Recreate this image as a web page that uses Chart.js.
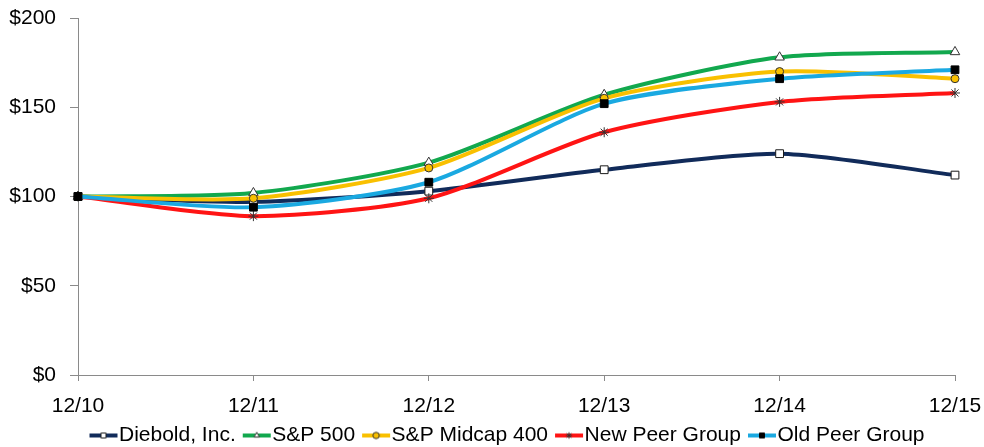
<!DOCTYPE html>
<html>
<head>
<meta charset="utf-8">
<script src="https://cdn.jsdelivr.net/npm/chart.js@4"></script>
<style>
html,body{margin:0;padding:0;background:#fff;}
#wrap{width:984px;height:447px;}
</style>
</head>
<body>
<div id="wrap"><canvas id="c" width="984" height="447"></canvas></div>
<script>
const categories = ['12/10','12/11','12/12','12/13','12/14','12/15'];
const diebold   = [100, 97, 103, 115, 124, 112];
const sp500     = [100, 102, 119, 157, 178, 181];
const midcap400 = [100, 99, 116, 155, 170, 166];
const newPeer   = [100, 89, 99, 136, 153, 158];
const oldPeer   = [100, 94, 108, 152, 166, 171];
const yTicks    = [0, 50, 100, 150, 200];

const seriesNames = ['Diebold, Inc.','S&P 500','S&P Midcap 400','New Peer Group','Old Peer Group'];
const lineColors  = ['#112B5A','#12A84E','#F9C000','#FF1414','#1AA9E1'];
const pStyles     = ['rect','triangle','circle','star','rect'];
const pFill       = ['#ffffff','#ffffff','#F9C000','#333333','#000000'];
const pBorder     = ['#1a1a1a','#333333','#333333','#333333','#000000'];
const pRadius     = [5.5,5.5,4,5,5.5];
const values      = [diebold, sp500, midcap400, newPeer, oldPeer];

function legendIcon(i){
  const c = document.createElement('canvas');
  c.width = 42; c.height = 14;
  const ctx = c.getContext('2d');
  ctx.strokeStyle = lineColors[i]; ctx.lineWidth = 4;
  ctx.beginPath(); ctx.moveTo(13,7); ctx.lineTo(41,7); ctx.stroke();
  ctx.fillStyle = pFill[i]; ctx.strokeStyle = pBorder[i]; ctx.lineWidth = 1;
  Chart.helpers.drawPoint(ctx, {pointStyle: pStyles[i], radius: (pStyles[i]==='rect'?3.5:3.2), rotation: 0, borderWidth: 1}, 27, 7);
  return c;
}

const datasets = values.map((v,i)=>({
  label: seriesNames[i],
  data: v,
  borderColor: lineColors[i],
  backgroundColor: lineColors[i],
  borderWidth: 4,
  tension: 0.25,
  pointStyle: pStyles[i],
  pointRadius: pRadius[i],
  pointBackgroundColor: pFill[i],
  pointBorderColor: pBorder[i],
  pointBorderWidth: 1,
  order: 5 - i
}));

const legendShift = {
  id: 'legendShift',
  afterLayout(chart){
    if (chart.legend){
      chart.legend.left += 24; chart.legend.right += 24;
      chart.legend.top += 9; chart.legend.bottom += 9;
    }
  }
};

new Chart(document.getElementById('c'), {
  type: 'line',
  data: { labels: categories, datasets },
  plugins: [legendShift],
  options: {
    responsive: false,
    animation: false,
    layout: { padding: { left: 8, right: 29, top: 18, bottom: 0 } },
    plugins: {
      tooltip: { enabled: false },
      legend: {
        position: 'bottom',
        labels: {
          font: { family: 'Liberation Sans', size: 21 },
          color: '#000',
          usePointStyle: true,
          pointStyleWidth: 22,
          padding: 4,
          generateLabels: (chart) => seriesNames.map((n,i)=>({
            text: n, pointStyle: legendIcon(i), datasetIndex: i,
            fillStyle: lineColors[i], strokeStyle: lineColors[i], lineWidth: 0, hidden: false
          }))
        }
      }
    },
    scales: {
      x: {
        offset: false,
        afterFit: (s) => { s.paddingLeft = 0; s.paddingRight = 0; s.height = 37; },
        grid: { display: true, drawOnChartArea: false, drawTicks: true, tickLength: 6, color: '#8a8a8a' },
        border: { color: '#8a8a8a', width: 1 },
        ticks: { font: { family: 'Liberation Sans', size: 21 }, color: '#000', padding: 13, maxRotation: 0 }
      },
      y: {
        min: 0, max: 200,
        afterBuildTicks: (ax) => { ax.ticks = yTicks.map(v=>({value:v})); },
        afterFit: (s) => { s.paddingTop = 0; s.paddingBottom = 0; s.width = 70; },
        grid: { display: true, drawOnChartArea: false, drawTicks: true, tickLength: 8, color: '#8a8a8a' },
        border: { color: '#8a8a8a', width: 1 },
        ticks: { font: { family: 'Liberation Sans', size: 21 }, color: '#000', padding: 14, callback: (v)=>'$'+v }
      }
    }
  }
});
</script>
</body>
</html>
